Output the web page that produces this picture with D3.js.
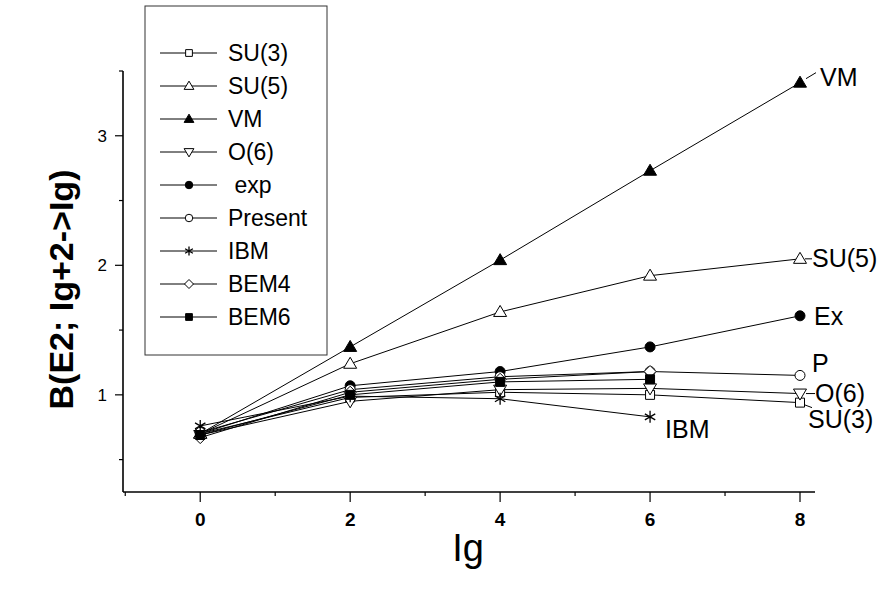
<!DOCTYPE html>
<html>
<head>
<meta charset="utf-8">
<script src="https://cdn.jsdelivr.net/npm/d3@7"></script>
<style>
body { margin: 0; background: #fff; }
text { font-family: Arial, 'Liberation Sans', sans-serif; fill: #000; }
</style>
</head>
<body>
<div id="chart"></div>
<script>
// Data
const lgValues = [0, 2, 4, 6, 8]
const seriesNames = ['SU(3)', 'SU(5)', 'VM', 'O(6)', ' exp', 'Present', 'IBM', 'BEM4', 'BEM6']
const su3Values = [0.70, 0.98, 1.02, 1.00, 0.94]
const su5Values = [0.70, 1.24, 1.64, 1.92, 2.05]
const vmValues = [0.70, 1.37, 2.04, 2.73, 3.41]
const o6Values = [0.69, 0.95, 1.04, 1.05, 1.01]
const expValues = [0.70, 1.07, 1.18, 1.37, 1.61]
const presentValues = [0.71, 1.04, 1.14, 1.18, 1.15]
const ibmValues = [0.76, 0.99, 0.97, 0.83]
const bem4Values = [0.67, 1.02, 1.12, 1.18]
const bem6Values = [0.69, 1.00, 1.10, 1.12]
const endLabels = ['SU(3)', 'SU(5)', 'VM', 'O(6)', 'Ex', 'P', 'IBM', '', '']
const xTickLabels = ['0', '2', '4', '6', '8']
const yTickLabels = ['1', '2', '3']

const seriesValues = [su3Values, su5Values, vmValues, o6Values, expValues,
    presentValues, ibmValues, bem4Values, bem6Values]

// Marker styles (per series)
const markerTypes = ['square', 'triUp', 'triUp', 'triDown', 'circle', 'circle', 'star', 'diamond', 'square']
const markerFilled = [false, false, true, false, true, false, false, false, true]

// End label offsets (dx, dy from last point) and leader lines
const endLabelOffsets = [[8, 25], [12, 8], [20, 3], [15, 8], [14, 9], [12, -3], [15, 21], [0, 0], [0, 0]]
const leaderLines = [[[4, 2], [12, 5]], [[5, 0], [12, 0]], [[6, -4], [16, -10]], [[6, 0], [15, 0]], null, null, null, null, null]

// Dimensions
const width = 889
const height = 591
const plotLeft = 123
const plotRight = 815
const plotTop = 71
const plotBottom = 492

const svg = d3.select('#chart')
    .append('svg')
    .attr('width', width)
    .attr('height', height)

svg.append('rect').attr('width', width).attr('height', height).attr('fill', '#fff')

const x = d3.scaleLinear().domain([-1.03, 8.2]).range([plotLeft, plotRight])
const y = d3.scaleLinear().domain([0.25, 3.5]).range([plotBottom, plotTop])

// Marker path builder
function markerPath(type, s) {
    const p = d3.path()
    if (type === 'square') {
        p.rect(-4.5 * s, -4.5 * s, 9 * s, 9 * s)
    } else if (type === 'triUp') {
        p.moveTo(0, -6.5 * s); p.lineTo(6.5 * s, 4.5 * s); p.lineTo(-6.5 * s, 4.5 * s); p.closePath()
    } else if (type === 'triDown') {
        p.moveTo(0, 6.5 * s); p.lineTo(6.5 * s, -4.5 * s); p.lineTo(-6.5 * s, -4.5 * s); p.closePath()
    } else if (type === 'circle') {
        p.arc(0, 0, 5 * s, 0, 2 * Math.PI)
    } else if (type === 'diamond') {
        p.moveTo(0, -6 * s); p.lineTo(6 * s, 0); p.lineTo(0, 6 * s); p.lineTo(-6 * s, 0); p.closePath()
    } else if (type === 'star') {
        const r = 6 * s
        for (let k = 0; k < 3; k++) {
            const a = Math.PI / 2 + k * Math.PI / 3
            p.moveTo(r * Math.cos(a), r * Math.sin(a))
            p.lineTo(-r * Math.cos(a), -r * Math.sin(a))
        }
    }
    return p.toString()
}

function drawMarker(g, i, cx, cy, s) {
    g.append('path')
        .attr('d', markerPath(markerTypes[i], s))
        .attr('transform', `translate(${cx},${cy})`)
        .attr('fill', markerTypes[i] === 'star' ? 'none' : (markerFilled[i] ? '#000' : '#fff'))
        .attr('stroke', '#000')
        .attr('stroke-width', markerTypes[i] === 'star' ? 1.3 : 1)
}

// Axes
const xAxisG = svg.append('g').attr('transform', `translate(0,${plotBottom})`)
xAxisG.append('line').attr('x1', plotLeft).attr('x2', plotRight).attr('stroke', '#000').attr('stroke-width', 1.6)
const xMinor = d3.range(-1, 9, 2)
xAxisG.selectAll('.xminor').data(xMinor).join('line')
    .attr('x1', d => x(d)).attr('x2', d => x(d)).attr('y1', 0).attr('y2', 4)
    .attr('stroke', '#000').attr('stroke-width', 1.2)
xAxisG.selectAll('.xmajor').data(lgValues).join('line')
    .attr('x1', d => x(d)).attr('x2', d => x(d)).attr('y1', 0).attr('y2', 10)
    .attr('stroke', '#000').attr('stroke-width', 1.2)
xAxisG.selectAll('.xlabel').data(lgValues).join('text')
    .attr('x', d => x(d)).attr('y', 34)
    .attr('text-anchor', 'middle')
    .style('font-size', '19px').style('font-weight', 'bold')
    .text((d, i) => xTickLabels[i])

const yAxisG = svg.append('g').attr('transform', `translate(${plotLeft},0)`)
yAxisG.append('line').attr('y1', plotTop).attr('y2', plotBottom).attr('stroke', '#000').attr('stroke-width', 1.6)
const yMinor = d3.range(0.5, 3.51, 1)
yAxisG.selectAll('.yminor').data(yMinor).join('line')
    .attr('x1', 0).attr('x2', -4).attr('y1', d => y(d)).attr('y2', d => y(d))
    .attr('stroke', '#000').attr('stroke-width', 1.2)
const yMajor = yTickLabels.map(Number)
yAxisG.selectAll('.ymajor').data(yMajor).join('line')
    .attr('x1', 0).attr('x2', -8).attr('y1', d => y(d)).attr('y2', d => y(d))
    .attr('stroke', '#000').attr('stroke-width', 1.2)
yAxisG.selectAll('.ylabel').data(yMajor).join('text')
    .attr('x', -16).attr('y', d => y(d) + 6)
    .attr('text-anchor', 'end')
    .style('font-size', '17px')
    .text((d, i) => yTickLabels[i])

// Axis titles
svg.append('text')
    .attr('transform', `translate(73,${(plotTop + plotBottom) / 2 + 8}) rotate(-90)`)
    .attr('text-anchor', 'middle')
    .style('font-size', '34px').style('font-weight', 'bold')
    .text('B(E2; Ig+2->Ig)')

svg.append('text')
    .attr('x', 468).attr('y', 561)
    .attr('text-anchor', 'middle')
    .style('font-size', '38px')
    .text('Ig')

// Series lines and markers
const line = d3.line().x((d, i) => x(lgValues[i])).y(d => y(d))
const seriesG = svg.append('g')
seriesValues.forEach((vals, i) => {
    seriesG.append('path')
        .attr('d', line(vals))
        .attr('fill', 'none')
        .attr('stroke', '#000')
        .attr('stroke-width', 1)
})
seriesValues.forEach((vals, i) => {
    vals.forEach((v, j) => drawMarker(seriesG, i, x(lgValues[j]), y(v), 1))
})

// End labels
seriesValues.forEach((vals, i) => {
    if (!endLabels[i]) return
    const last = vals.length - 1
    const px = x(lgValues[last])
    const py = y(vals[last])
    if (leaderLines[i]) {
        const [[a1, b1], [a2, b2]] = leaderLines[i]
        seriesG.append('line')
            .attr('x1', px + a1).attr('y1', py + b1).attr('x2', px + a2).attr('y2', py + b2)
            .attr('stroke', '#000').attr('stroke-width', 1)
    }
    seriesG.append('text')
        .attr('x', px + endLabelOffsets[i][0])
        .attr('y', py + endLabelOffsets[i][1])
        .style('font-size', '25px')
        .text(endLabels[i])
})

// Legend
const legendLeft = 145
const legendTop = 6
const legendWidth = 182
const legendRowStart = 53
const legendRowStep = 33
const legendG = svg.append('g')
legendG.append('rect')
    .attr('x', legendLeft).attr('y', legendTop)
    .attr('width', legendWidth)
    .attr('height', legendRowStart - legendTop + legendRowStep * (seriesNames.length - 1) + 38)
    .attr('fill', '#fff').attr('stroke', '#333').attr('stroke-width', 1)
seriesNames.forEach((name, i) => {
    const ly = legendTop + legendRowStart - 6 + i * legendRowStep
    legendG.append('line')
        .attr('x1', 160).attr('x2', 217).attr('y1', ly).attr('y2', ly)
        .attr('stroke', '#000').attr('stroke-width', 1)
    drawMarker(legendG, i, 189, ly, 0.75)
    legendG.append('text')
        .attr('x', 228).attr('y', ly + 8)
        .style('font-size', '23px')
        .style('white-space', 'pre')
        .text(name)
})
</script>
</body>
</html>
